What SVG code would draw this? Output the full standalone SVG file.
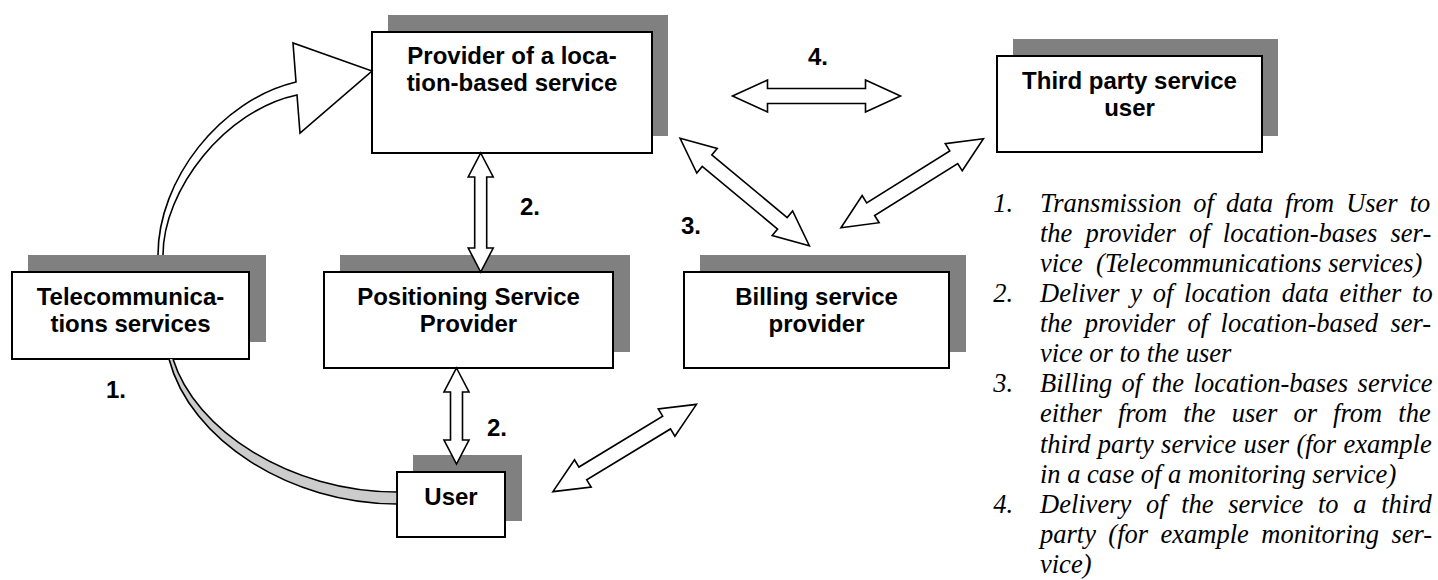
<svg xmlns="http://www.w3.org/2000/svg" width="1438" height="580" viewBox="0 0 1438 580">
  <style>
    .shadow { fill: #808080; }
    .box { fill: #ffffff; stroke: #000000; stroke-width: 2; }
    .lbl { font-family: "Liberation Sans", Arial, sans-serif; font-weight: bold; font-size: 24px; text-anchor: middle; fill: #000000; }
    .num { font-family: "Liberation Sans", Arial, sans-serif; font-weight: bold; font-size: 24px; fill: #000000; }
    .arrow { fill: #ffffff; stroke: #000000; stroke-width: 1.6; stroke-linejoin: miter; }
    .band { fill: #cccccc; stroke: #000000; stroke-width: 1.6; }
    .legend { font-family: "Liberation Serif", "Times New Roman", serif; font-style: italic; font-size: 26.5px; fill: #000000; }
  </style>
  <defs>
    <!-- double-headed block arrow, 168 long, centred on the origin -->
    <path id="dbl" d="M-84,0 L-49,-16 L-49,-7.5 L49,-7.5 L49,-16 L84,0 L49,16 L49,7.5 L-49,7.5 L-49,16 Z"/>
  </defs>

  <rect width="1438" height="580" fill="#ffffff"/>

  <g id="provider">
    <rect class="shadow" x="388" y="15" width="280" height="121"/>
    <rect class="box" x="372" y="32" width="280" height="121"/>
    <text class="lbl" x="512" y="64">Provider of a loca-</text>
    <text class="lbl" x="512" y="91">tion-based service</text>
  </g>

  <g id="third-party">
    <rect class="shadow" x="1013" y="39" width="265" height="97"/>
    <rect class="box" x="997" y="56" width="265" height="96"/>
    <text class="lbl" x="1129.5" y="89">Third party service</text>
    <text class="lbl" x="1129.5" y="116">user</text>
  </g>

  <g id="telecom">
    <rect class="shadow" x="28" y="255" width="238" height="87"/>
    <rect class="box" x="12" y="272" width="237" height="87"/>
    <text class="lbl" x="130.5" y="305">Telecommunica-</text>
    <text class="lbl" x="130.5" y="332">tions services</text>
  </g>

  <g id="positioning">
    <rect class="shadow" x="340" y="255" width="290" height="97"/>
    <rect class="box" x="324" y="272" width="289" height="96"/>
    <text class="lbl" x="468.5" y="305">Positioning Service</text>
    <text class="lbl" x="468.5" y="332">Provider</text>
  </g>

  <g id="billing">
    <rect class="shadow" x="700" y="255" width="266" height="97"/>
    <rect class="box" x="684" y="272" width="265" height="96"/>
    <text class="lbl" x="816.5" y="305">Billing service</text>
    <text class="lbl" x="816.5" y="332">provider</text>
  </g>

  <g id="user">
    <rect class="shadow" x="413" y="455" width="109" height="66"/>
    <rect class="box" x="397" y="472" width="108" height="65"/>
    <text class="lbl" x="451" y="505">User</text>
  </g>

  <g id="connectors">
    <!-- 1. curved block arrow from telecommunications up to the provider -->
    <path class="arrow" d="M158,255 C158,180 220,100 296,82 L293,43 L372,71 L300,133 L297,95 C225,110 163,190 163,255"/>
    <!-- 1. tapered band from telecommunications down to the user -->
    <path class="band" d="M169,359 C190,440 290,504 397,504 L397,492 C290,492 195,430 173,359"/>
    <!-- 2. provider <-> positioning -->
    <path class="arrow" d="M480.7,153 L493.2,177 L486.7,177 L486.7,248 L493.2,248 L480.7,272 L468.2,248 L474.7,248 L474.7,177 L468.2,177 Z"/>
    <!-- 2. positioning <-> user -->
    <path class="arrow" d="M456.5,368 L469,392 L462.5,392 L462.5,440 L469,440 L456.5,464 L444,440 L450.5,440 L450.5,392 L444,392 Z"/>
    <!-- 4. provider <-> third party -->
    <use href="#dbl" class="arrow" transform="translate(816.5,96)"/>
    <!-- 3. provider <-> billing -->
    <use href="#dbl" class="arrow" transform="translate(744.7,192) rotate(39.7)"/>
    <!-- third party <-> billing -->
    <use href="#dbl" class="arrow" transform="translate(912.2,183.2) rotate(-32)"/>
    <!-- user <-> billing -->
    <use href="#dbl" class="arrow" transform="translate(624.7,448) rotate(-31.3)"/>

    <text class="num" x="808" y="65">4.</text>
    <text class="num" x="520" y="215">2.</text>
    <text class="num" x="681" y="234">3.</text>
    <text class="num" x="487" y="436">2.</text>
    <text class="num" x="106" y="398">1.</text>
  </g>

  <g id="legend" class="legend">
    <text x="993.3" y="211.7">1.</text>
    <text x="1040" y="211.7" word-spacing="5.36">Transmission of data from User to</text>
    <text x="1040" y="241.8" word-spacing="6.55">the provider of location-bases ser-</text>
    <text x="1040" y="271.9" xml:space="preserve">vice  (Telecommunications services)</text>
    <text x="993.3" y="302">2.</text>
    <text x="1040" y="302" word-spacing="4.12">Deliver y of location data either to</text>
    <text x="1040" y="332.1" word-spacing="5.8">the provider of location-based ser-</text>
    <text x="1040" y="362.2">vice or to the user</text>
    <text x="993.3" y="392.3">3.</text>
    <text x="1040" y="392.3" word-spacing="2.85">Billing of the location-bases service</text>
    <text x="1040" y="422.4" word-spacing="9.5">either from the user or from the</text>
    <text x="1040" y="452.5" word-spacing="0.68">third party service user (for example</text>
    <text x="1040" y="482.6">in a case of a monitoring service)</text>
    <text x="993.3" y="512.7">4.</text>
    <text x="1040" y="512.7" word-spacing="8.05">Delivery of the service to a third</text>
    <text x="1040" y="542.8" word-spacing="5.8">party (for example monitoring ser-</text>
    <text x="1040" y="572.9">vice)</text>
  </g>
</svg>
